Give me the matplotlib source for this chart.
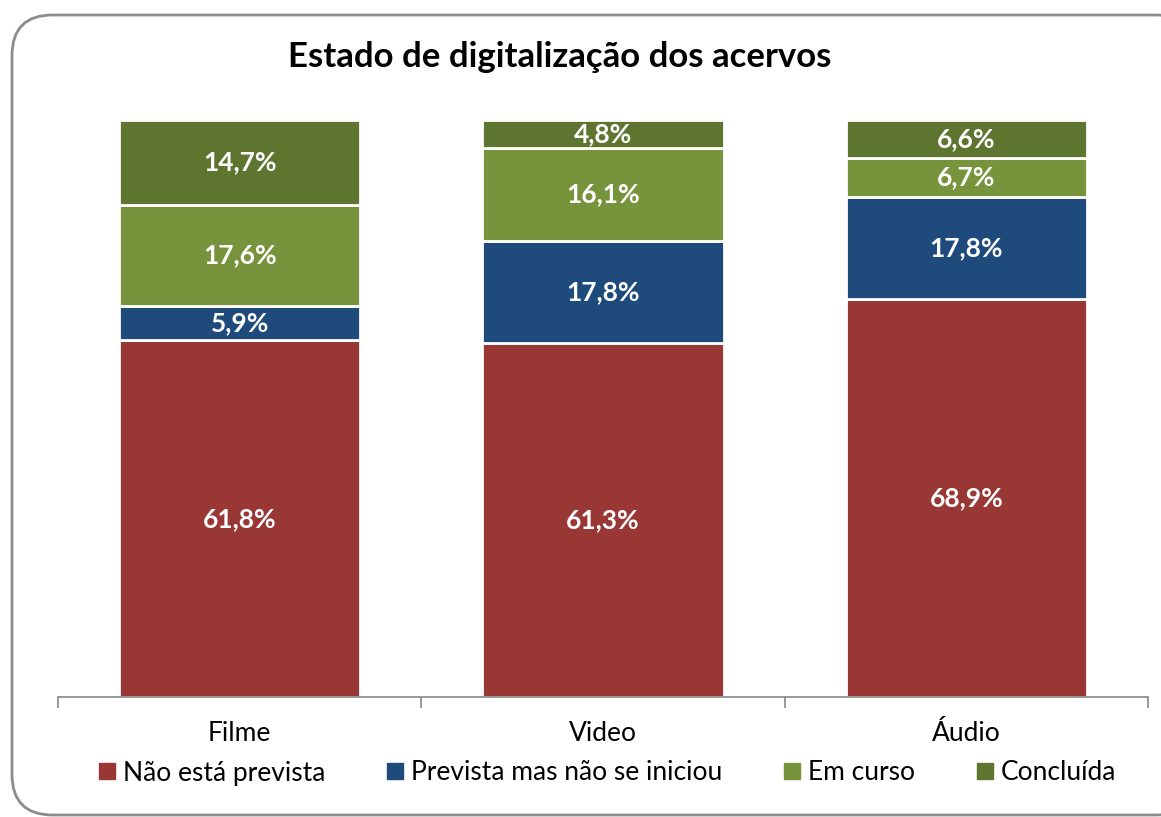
import matplotlib.pyplot as plt
from matplotlib.patches import FancyBboxPatch
from matplotlib.lines import Line2D
import numpy as np

plt.rcParams['font.family'] = ['Lato', 'DejaVu Sans']

# dados
categorias = ['Filme', 'Video', 'Áudio']
series = ['Não está prevista', 'Prevista mas não se iniciou', 'Em curso', 'Concluída']
nao_prevista = [61.8, 61.3, 68.9]
prevista = [5.9, 17.8, 17.8]
em_curso = [17.6, 16.1, 6.7]
concluida = [14.7, 4.8, 6.6]
cores = ['#993735', '#1F4A7C', '#77933C', '#5E7530']

valores = [nao_prevista, prevista, em_curso, concluida]

fig = plt.figure(figsize=(11.61, 8.17), dpi=100)

# moldura arredondada
moldura = FancyBboxPatch((12 / 1161, 1 - 815 / 817), 1.02, 800 / 817,
                         boxstyle='round,pad=0,rounding_size=0.035',
                         transform=fig.transFigure, facecolor='white',
                         edgecolor='#8C8C8C', linewidth=2, zorder=-1,
                         mutation_aspect=1161 / 817)
fig.patches.append(moldura)

ax = fig.add_axes([58 / 1161, 1 - 697 / 817, 1090 / 1161, 577 / 817])
ax.set_facecolor('none')
ax.set_zorder(2)

x = np.arange(len(categorias))
base = np.zeros(len(categorias))
for serie, vals, cor in zip(series, valores, cores):
    vals = np.array(vals)
    ax.bar(x, vals, 0.664, bottom=base, color=cor, edgecolor='white',
           linewidth=2, label=serie)
    for xi, b, v in zip(x, base, vals):
        ax.text(xi, b + v / 2, ('%.1f%%' % v).replace('.', ','),
                ha='center', va='center', color='white', fontsize=19,
                fontweight='bold')
    base = base + vals

ax.set_xlim(-0.5, 2.5)
ax.set_ylim(0, 100)
ax.set_yticks([])
for s in ['top', 'right', 'left']:
    ax.spines[s].set_visible(False)
ax.spines['bottom'].set_color('#868686')
ax.spines['bottom'].set_linewidth(1.2)

ax.set_xticks([-0.5, 0.5, 1.5, 2.5])
ax.set_xticklabels([])
ax.tick_params(axis='x', length=8, color='#868686', width=1.2)
for xi, c in zip(x, categorias):
    ax.text(xi, -6.4, c, ha='center', va='center', fontsize=19, color='black')

fig.text(560 / 1161, 1 - 57 / 817, 'Estado de digitalização dos acervos',
         ha='center', va='center', fontsize=25, fontweight='bold')

handles = [Line2D([], [], marker='s', linestyle='none', markersize=11,
                  markerfacecolor=c, markeredgecolor=c) for c in cores]
fig.legend(handles, series, loc='center', ncol=4,
           bbox_to_anchor=(602 / 1161, 1 - 773 / 817), frameon=False,
           fontsize=19, handletextpad=-0.1, columnspacing=1.95,
           handlelength=1.4)

fig.savefig('out.png', dpi=100)
